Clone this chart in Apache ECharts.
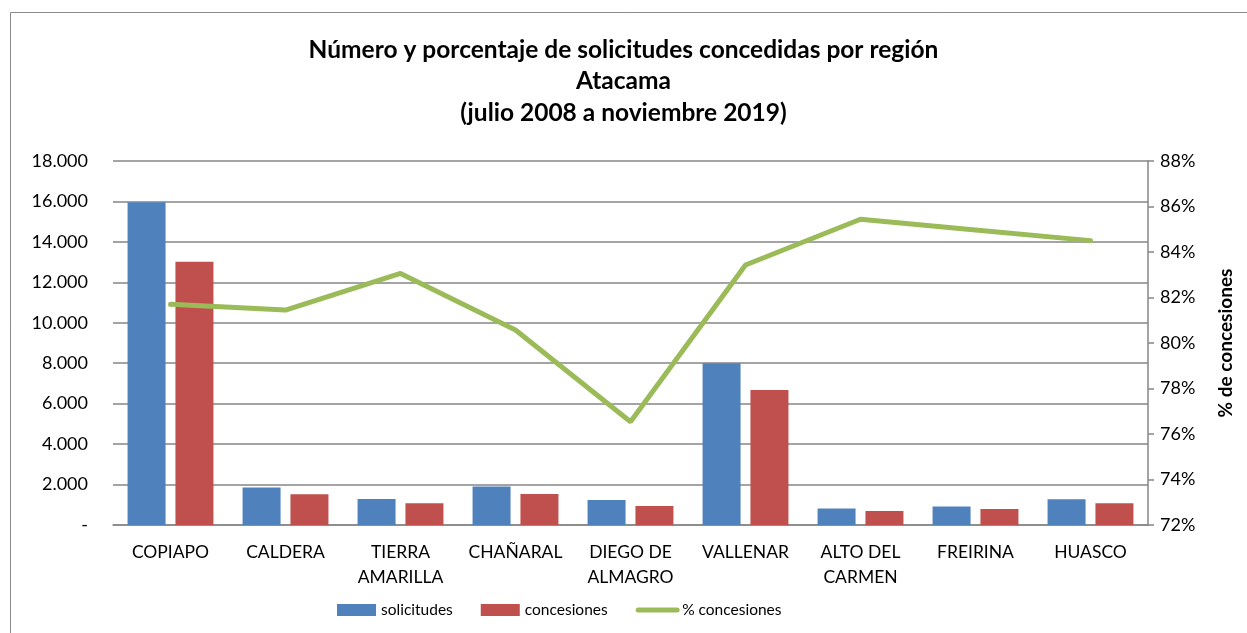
<!DOCTYPE html>
<html>
<head>
<meta charset="utf-8">
<script src="https://cdn.jsdelivr.net/npm/echarts@6/dist/echarts.min.js"></script>
<style>
html,body{margin:0;padding:0;background:#fff;}
#c{width:1247px;height:633px;}
</style>
</head>
<body>
<div id="c"></div>
<script>
const categories = ['COPIAPO','CALDERA','TIERRA\nAMARILLA','CHAÑARAL','DIEGO DE\nALMAGRO','VALLENAR','ALTO DEL\nCARMEN','FREIRINA','HUASCO'];
const solicitudes = [15960, 1860, 1290, 1900, 1240, 8000, 810, 920, 1270];
const concesiones = [13020, 1520, 1070, 1530, 940, 6680, 690, 790, 1070];
const pctConcesiones = [81.7, 81.45, 83.06, 80.57, 76.54, 83.43, 85.44, 84.97, 84.5];
const leftTicks = {min: 0, max: 18000, interval: 2000};
const rightTicks = {min: 72, max: 88, interval: 2};

const FONT = 'Lato, "Open Sans", sans-serif';
const chart = echarts.init(document.getElementById('c'), null, {renderer: 'canvas'});
function fmtThousands(v){
  if (v === 0) return '-';
  return String(v).replace(/\B(?=(\d{3})+(?!\d))/g, '.');
}
chart.setOption({
  animation: false,
  textStyle: {fontFamily: FONT, color: '#000'},
  graphic: [{
    type: 'rect', left: 8, top: 10, z: -10,
    shape: {width: 1260, height: 640},
    style: {fill: 'none', stroke: '#8a8a8a', lineWidth: 1}
  }],
  title: {
    text: 'Número y porcentaje de solicitudes concedidas por región\nAtacama\n(julio 2008 a noviembre 2019)',
    left: 'center', top: 29,
    textStyle: {fontFamily: FONT, fontSize: 24.5, fontWeight: 'bold', color: '#000', lineHeight: 31.5}
  },
  legend: {
    bottom: 10, left: 332,
    itemWidth: 39, itemHeight: 12, itemGap: 28, itemTextGap: 7,
    textStyle: {fontFamily: FONT, fontSize: 15.5, color: '#000'},
    data: [
      {name: 'solicitudes', icon: 'rect'},
      {name: 'concesiones', icon: 'rect'},
      {name: '% concesiones', itemStyle: {color: 'rgba(0,0,0,0)', borderWidth: 0, opacity: 0},
       lineStyle: {color: '#9BBB59', width: 5, cap: 'round'}}
    ]
  },
  grid: {left: 113, right: 99, top: 161, bottom: 108, containLabel: false},
  xAxis: {
    type: 'category', data: categories,
    axisLine: {lineStyle: {color: '#868686', width: 1.5}},
    axisTick: {show: false},
    axisLabel: {fontFamily: FONT, fontSize: 17.5, color: '#000', margin: 15, lineHeight: 25, interval: 0}
  },
  yAxis: [{
    type: 'value', min: leftTicks.min, max: leftTicks.max, interval: leftTicks.interval,
    axisLine: {show: false}, axisTick: {show: false},
    splitLine: {lineStyle: {color: '#868686', width: 1.5}},
    axisLabel: {fontFamily: FONT, fontSize: 18, color: '#000', margin: 25, formatter: fmtThousands}
  }, {
    type: 'value', min: rightTicks.min, max: rightTicks.max, interval: rightTicks.interval,
    position: 'right',
    name: '% de concesiones', nameLocation: 'middle', nameRotate: 90, nameGap: 68,
    nameTextStyle: {fontFamily: FONT, fontSize: 19, fontWeight: 'bold', color: '#000'},
    axisLine: {show: true, lineStyle: {color: '#868686', width: 1.5}},
    axisTick: {show: true, length: 6, lineStyle: {color: '#868686', width: 1.5}},
    splitLine: {show: false},
    axisLabel: {fontFamily: FONT, fontSize: 18, color: '#000', margin: 12, formatter: '{value}%'}
  }],
  series: [{
    name: 'solicitudes', type: 'bar', data: solicitudes, yAxisIndex: 0,
    barWidth: 38, barGap: '26%',
    itemStyle: {color: '#4F81BD'}
  }, {
    name: 'concesiones', type: 'bar', data: concesiones, yAxisIndex: 0,
    barWidth: 38, barGap: '26%',
    itemStyle: {color: '#C0504D'}
  }, {
    name: '% concesiones', type: 'line', data: pctConcesiones, yAxisIndex: 1,
    symbol: 'none', lineStyle: {color: '#9BBB59', width: 5, cap: 'round'},
    itemStyle: {color: '#9BBB59'}
  }]
});
</script>
</body>
</html>
